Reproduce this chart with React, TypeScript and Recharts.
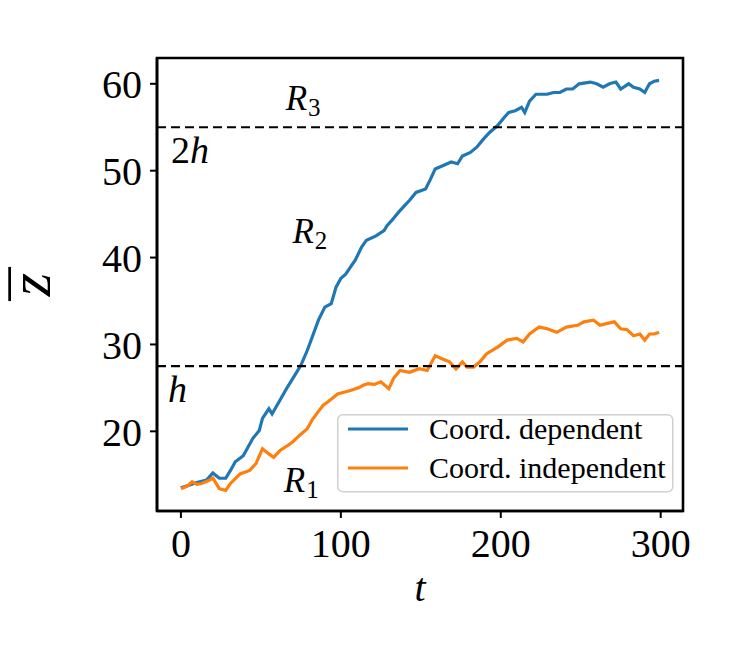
import React from 'react';
import {
  LineChart, Line, XAxis, YAxis, ReferenceLine, ReferenceDot, ReferenceArea, Legend,
} from 'recharts';

// ---- data ----
const blueT = [0, 5, 10, 16, 20, 24, 28, 31, 34, 39, 45, 49, 51, 55, 57, 62, 66, 70, 75, 79, 82, 86, 90, 94, 97, 100, 103, 106, 109, 113, 116, 122, 127, 129, 132, 136, 140, 143, 147, 153, 156, 159, 164, 169, 173, 176, 181, 185, 189, 193, 198, 202, 205, 209, 213, 215, 218, 222, 229, 233, 237, 241, 245, 249, 256, 260, 264, 268, 272, 275, 280, 283, 287, 290, 293, 296, 299];
const blueZ = [13.5, 13.8, 14.1, 14.4, 15.2, 14.6, 14.6, 15.5, 16.5, 17.2, 19.2, 20.1, 21.5, 22.6, 22.0, 23.6, 24.9, 26.1, 27.6, 29.3, 30.8, 32.8, 34.3, 34.7, 36.6, 37.6, 38.1, 38.9, 39.7, 41.2, 42.0, 42.5, 43.1, 43.7, 44.3, 45.2, 46.0, 46.6, 47.5, 47.9, 49.0, 50.2, 50.6, 51.0, 50.8, 51.7, 52.1, 52.7, 53.6, 54.4, 55.2, 56.1, 56.7, 56.9, 57.3, 56.7, 58.0, 58.8, 58.8, 59.0, 59.0, 59.4, 59.4, 60.0, 60.2, 60.0, 59.6, 60.0, 60.2, 59.4, 60.0, 59.6, 59.4, 59.0, 60.0, 60.3, 60.4];

const orangeT = [0, 4, 7, 10, 13, 17, 20, 24, 28, 31, 37, 43, 47, 51, 55, 58, 62, 67, 70, 74, 79, 82, 86, 89, 92, 98, 102, 106, 111, 114, 117, 121, 125, 130, 133, 137, 143, 149, 154, 159, 164, 168, 172, 176, 179, 183, 187, 191, 198, 204, 210, 214, 218, 224, 229, 235, 241, 248, 252, 258, 262, 266, 271, 275, 279, 283, 287, 290, 293, 296, 299];
const orangeZ = [13.4, 13.7, 14.2, 13.9, 14.0, 14.3, 14.6, 13.4, 13.2, 14.0, 15.1, 15.5, 16.3, 18.0, 17.4, 17.0, 17.8, 18.4, 18.8, 19.5, 20.3, 21.3, 22.3, 23.0, 23.4, 24.3, 24.5, 24.7, 25.0, 25.3, 25.5, 25.4, 25.7, 24.9, 26.1, 27.0, 26.8, 27.2, 27.0, 28.7, 28.3, 28.0, 27.2, 28.0, 27.4, 27.4, 28.0, 28.9, 29.7, 30.5, 30.7, 30.3, 31.2, 32.0, 31.8, 31.4, 32.0, 32.2, 32.6, 32.8, 32.2, 32.4, 32.6, 31.8, 31.7, 31.0, 31.2, 30.5, 31.2, 31.2, 31.4];

const seriesNames = ['Coord. dependent', 'Coord. independent'];
const tTicks = [0, 100, 200, 300];
const zTicks = [20, 30, 40, 50, 60];
const tDomain = [-14.95, 313.95];
const zDomain = [10.83, 62.97];
const levels = [27.5, 55];
const xLabelText = 't';
const yLabelText = 'z';

// annotation anchors (data coordinates of text start / baseline)
const annT = [65.5, 69.7, 64.3, -6.2, -8.1];
const annZ = [56.93, 41.64, 13.06, 50.92, 23.4];
const annMain = ['R', 'R', 'R', '2', 'h'];
const annItalic = ['', '', '', 'h', ''];
const annSub = ['3', '2', '1', '', ''];

const blueData = blueT.map((t, i) => ({ t, z: blueZ[i] }));
const orangeData = orangeT.map((t, i) => ({ t, z: orangeZ[i] }));

const FONT = "'Liberation Serif', 'DejaVu Serif', serif";
const BLUE = '#1f77b4';
const ORANGE = '#ff7f0e';

const YW = 80;
const XH = 60;

const AnnShape = (idx: number) => (p: any) => {
  const isR = annMain[idx] === 'R';
  const size = isR ? 35 : 38;
  return (
    <g>
      <text x={p.cx} y={p.cy} fontFamily={FONT} fontSize={size} fill="#000">
        <tspan fontStyle={annMain[idx] === '2' ? 'normal' : 'italic'}>{annMain[idx]}</tspan>
        {annItalic[idx] ? <tspan fontStyle="italic">{annItalic[idx]}</tspan> : null}
        {annSub[idx] ? (
          <tspan fontSize={25} dy={6} dx={1}>{annSub[idx]}</tspan>
        ) : null}
      </text>
    </g>
  );
};

const LegendBox = (props: any) => {
  const payload = props.payload || [];
  return (
    <svg width={337} height={80} style={{ display: 'block', overflow: 'visible' }}>
      <rect x={0.75} y={0.75} width={335} height={77} rx={5} ry={5}
        fill="rgba(255,255,255,0.8)" stroke="#d0d0d0" strokeWidth={1.5} />
      {payload.map((entry: any, i: number) => (
        <g key={i}>
          <line x1={11} x2={71} y1={15 + i * 39} y2={15 + i * 39}
            stroke={entry.color} strokeWidth={3} />
          <text x={92} y={25 + i * 39} fontFamily={FONT} fontSize={30} fill="#000">
            {entry.value}
          </text>
        </g>
      ))}
    </svg>
  );
};

const XLabel = (lp: any) => {
  const vb = lp.viewBox || { x: 157, y: 511, width: 526 };
  return (
    <g>
      <text x={vb.x + vb.width / 2} y={vb.y + 90} textAnchor="middle"
        fontFamily={FONT} fontStyle="italic" fontSize={40} fill="#000">{xLabelText}</text>
    </g>
  );
};

// rotated z with an overbar (macron glyph stretched to the bar length)
const YLabel = (lp: any) => {
  const vb = lp.viewBox || { x: 77, y: 58, width: 80, height: 453 };
  const cx = vb.x - 27;
  const cy = vb.y + vb.height / 2;
  return (
    <g transform={`translate(${cx} ${cy}) rotate(-90)`}>
      <text x={0} y={0} textAnchor="middle"
        fontFamily={FONT} fontStyle="italic" fontSize={60} fill="#000">{yLabelText}</text>
      <text x={-16} y={3} textLength={33} lengthAdjust="spacingAndGlyphs"
        fontFamily={FONT} fontSize={60} fill="#000">{'\u00AF'}</text>
    </g>
  );
};

export default function App() {
  return (
    <div style={{ position: 'absolute', left: 0, top: 0, width: 747, height: 652, background: '#fff' }}>
      <LineChart
        width={747}
        height={652}
        margin={{ top: 58, right: 64, bottom: 141 - XH, left: 157 - YW }}
      >
        <XAxis
          dataKey="t"
          type="number"
          domain={tDomain}
          ticks={tTicks}
          allowDataOverflow
          height={XH}
          tickSize={7}
          tickMargin={11}
          tick={{ fontFamily: FONT, fontSize: 40, fill: '#000' }}
          tickLine={{ stroke: '#000', strokeWidth: 2 }}
          axisLine={{ stroke: '#000', strokeWidth: 2.6 }}
          label={XLabel}
        />
        <YAxis
          type="number"
          domain={zDomain}
          ticks={zTicks}
          allowDataOverflow
          width={YW}
          tickSize={7}
          tickMargin={8}
          tick={{ fontFamily: FONT, fontSize: 40, fill: '#000' }}
          tickLine={{ stroke: '#000', strokeWidth: 2 }}
          axisLine={{ stroke: '#000', strokeWidth: 2.6 }}
          label={YLabel}
        />
        <Line data={blueData} dataKey="z" name={seriesNames[0]} type="linear" stroke={BLUE}
          strokeWidth={3.2} dot={false} activeDot={false} isAnimationActive={false} />
        <Line data={orangeData} dataKey="z" name={seriesNames[1]} type="linear" stroke={ORANGE}
          strokeWidth={3.2} dot={false} activeDot={false} isAnimationActive={false} />
        {levels.map((lv) => (
          <ReferenceLine key={lv} y={lv} stroke="#000" strokeWidth={2.2} strokeDasharray="9 5" />
        ))}
        <ReferenceArea
          x1={tDomain[0]} x2={tDomain[1]} y1={zDomain[0]} y2={zDomain[1]}
          ifOverflow="visible" fill="none" fillOpacity={0} stroke="#000" strokeWidth={2.6}
        />
        {annT.map((t, i) => (
          <ReferenceDot key={i} x={t} y={annZ[i]} r={0} ifOverflow="visible" shape={AnnShape(i)} />
        ))}
        <Legend
          layout="vertical"
          align="center"
          verticalAlign="middle"
          content={LegendBox}
          wrapperStyle={{ left: 337, top: 414, width: 337, height: 80 }}
        />
      </LineChart>
    </div>
  );
}
